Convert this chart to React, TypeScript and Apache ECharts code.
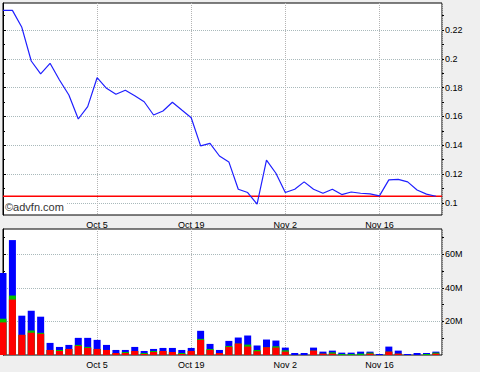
import React, { useEffect, useRef } from "react";
import * as echarts from "echarts";

const dates = [
  "Sep 21", "Sep 22", "Sep 23", "Sep 24", "Sep 25", "Sep 28", "Sep 29", "Sep 30",
  "Oct 1", "Oct 2", "Oct 5", "Oct 6", "Oct 7", "Oct 8", "Oct 9", "Oct 12", "Oct 13",
  "Oct 14", "Oct 15", "Oct 16", "Oct 19", "Oct 20", "Oct 21", "Oct 22", "Oct 23",
  "Oct 26", "Oct 27", "Oct 28", "Oct 29", "Oct 30", "Nov 2", "Nov 3", "Nov 4", "Nov 5",
  "Nov 6", "Nov 9", "Nov 10", "Nov 11", "Nov 12", "Nov 13", "Nov 16", "Nov 17",
  "Nov 18", "Nov 19", "Nov 20", "Nov 23", "Nov 24",
];
const labeledDates = ["Oct 5", "Oct 19", "Nov 2", "Nov 16"];

const price = [
  0.2337, 0.2337, 0.2219, 0.1985, 0.1895, 0.1969, 0.1853, 0.1749, 0.1582, 0.1668,
  0.1869, 0.1795, 0.1754, 0.1782, 0.1744, 0.1702, 0.161, 0.1638, 0.1698, 0.1644,
  0.1591, 0.1395, 0.1413, 0.1325, 0.1284, 0.1094, 0.1071, 0.099, 0.1296, 0.1205,
  0.1071, 0.1094, 0.1145, 0.1094, 0.1066, 0.1094, 0.1057, 0.1075, 0.1066, 0.1062,
  0.1048, 0.1159, 0.1163, 0.1145, 0.1089, 0.106, 0.1045,
];
const lastPrice = 0.1045;

// volume in millions, stacked: red (bottom), green, blue (top)
const volRed = [
  19.4, 33, 12, 13.2, 12.6, 3, 2.4, 3.6, 5.4, 4.2, 3.6, 3, 1.2, 1.2, 2.4, 0.6, 1.8,
  2.4, 1.8, 0.6, 2.4, 9, 3, 1.2, 4.8, 6.8, 5, 2.2, 4.6, 4.4, 2, 0, 0, 2.6, 0.8, 0.8,
  0, 0, 0, 0.8, 0, 2, 0.8, 0, 0, 0, 0.8,
];
const volGreen = [
  2.2, 2.4, 0, 1.4, 0.6, 0, 0.6, 0, 0.6, 0.6, 0, 0, 0, 0.6, 0, 0.6, 0.6, 0, 0, 0.6,
  0, 0.6, 0.6, 0, 0.6, 0, 1.2, 0.8, 0, 0.8, 0.8, 0, 0, 0, 0, 0.8, 0.6, 0.6, 0.8, 0.6,
  0, 0, 0, 0, 0, 0.6, 0.6,
];
const volBlue = [
  27.2, 33, 11.4, 11.8, 9.6, 4.2, 1.8, 2.4, 4.2, 5.4, 5.4, 3, 1.8, 1.2, 2.4, 1.2, 1.2,
  1.8, 2.4, 1.8, 1.8, 4.8, 3, 1.8, 3, 3.6, 5.4, 2.6, 4.6, 3.4, 1.6, 1.2, 1.2, 1.8, 1.2,
  1.0, 0.8, 0.8, 1.2, 0.6, 0.6, 3, 1.8, 0.6, 1.2, 0.6, 0.6,
];

const priceTicks = [0.1, 0.12, 0.14, 0.16, 0.18, 0.2, 0.22];
const priceMinorTicks = [0.1, 0.11, 0.12, 0.13, 0.14, 0.15, 0.16, 0.17, 0.18, 0.19, 0.2, 0.21, 0.22, 0.23];
const volTicks = [20, 40, 60];
const volMinorTicks = [10, 20, 30, 40, 50, 60, 70];

const FONT = "Liberation Sans, Arial, sans-serif";

export default function App() {
  const ref = useRef<HTMLDivElement>(null);
  useEffect(() => {
    document.body.style.margin = "0";
    const chart = echarts.init(ref.current!, null, { renderer: "svg" });
    const idx = (arr: number[]) => arr.map((v, i) => [i, v]);
    // cumulative tops for the stacked look (drawn overlapping, tallest first)
    const cumGreen = volRed.map((r, i) => r + volGreen[i]);
    const cumBlue = cumGreen.map((g, i) => g + volBlue[i]);
    const labelIdx = labeledDates.map((d) => dates.indexOf(d));
    const xFmt = (v: number) => (labelIdx.includes(v) ? dates[v] : "");
    const hLine = { show: true, lineStyle: { color: "#a9b9bb", type: [1, 1] as any, width: 1 } };
    const vLine = { show: true, lineStyle: { color: "#b4b4b4", type: [1, 1] as any, width: 1 } };
    const xMax = 46.65;
    const xBase = (grid: number) => ({
      type: "value",
      gridIndex: grid,
      min: 0,
      max: xMax,
      interval: 10,
      axisLine: { show: false },
      axisTick: { show: false },
      axisLabel: { formatter: xFmt, fontSize: 9, fontFamily: FONT, color: "#000", margin: 5, showMinLabel: true, showMaxLabel: true },
      splitLine: vLine,
    });
    const pMin = 0.0915, pMax = 0.2388;
    const vMin = 0, vMax = 75;
    const barCommon = { type: "bar", xAxisIndex: 1, yAxisIndex: 3, barWidth: 7, barGap: "-100%" };
    chart.setOption({
      animation: false,
      backgroundColor: "#efefef",
      grid: [
        { left: 3, top: 3, width: 439, height: 212, show: true, backgroundColor: "#fff", borderColor: "#000", borderWidth: 1 },
        { left: 3, top: 229, width: 439, height: 126, show: true, backgroundColor: "#fff", borderColor: "#000", borderWidth: 1 },
      ],
      xAxis: [xBase(0), xBase(1)],
      yAxis: [
        {
          type: "value", gridIndex: 0, position: "right", min: pMin, max: pMax,
          axisLine: { show: true, lineStyle: { color: "#000" } },
          axisTick: { show: true, length: 3, customValues: priceTicks, lineStyle: { color: "#000" } },
          axisLabel: { customValues: priceTicks, fontSize: 9, fontFamily: FONT, color: "#000", margin: 3 },
          splitLine: hLine,
        },
        {
          type: "value", gridIndex: 0, position: "right", min: pMin, max: pMax,
          axisLine: { show: false },
          axisTick: { show: true, length: 2, customValues: priceMinorTicks, lineStyle: { color: "#000" } },
          axisLabel: { show: false },
          splitLine: { show: false },
        },
        {
          type: "value", gridIndex: 0, position: "left", min: pMin, max: pMax,
          axisLine: { show: false },
          axisTick: { show: true, inside: true, length: 2, customValues: priceMinorTicks, lineStyle: { color: "#000" } },
          axisLabel: { show: false },
          splitLine: { show: false },
        },
        {
          type: "value", gridIndex: 1, position: "right", min: vMin, max: vMax,
          axisLine: { show: true, lineStyle: { color: "#000" } },
          axisTick: { show: true, length: 3, customValues: volTicks, lineStyle: { color: "#000" } },
          axisLabel: { customValues: volTicks, fontSize: 9, fontFamily: FONT, color: "#000", margin: 3, formatter: (v: number) => v + "M" },
          splitLine: hLine,
        },
        {
          type: "value", gridIndex: 1, position: "right", min: vMin, max: vMax,
          axisLine: { show: false },
          axisTick: { show: true, length: 2, customValues: volMinorTicks, lineStyle: { color: "#000" } },
          axisLabel: { show: false },
          splitLine: { show: false },
        },
        {
          type: "value", gridIndex: 1, position: "left", min: vMin, max: vMax,
          axisLine: { show: false },
          axisTick: { show: true, inside: true, length: 2, customValues: volMinorTicks, lineStyle: { color: "#000" } },
          axisLabel: { show: false },
          splitLine: { show: false },
        },
      ],
      series: [
        {
          type: "line", xAxisIndex: 0, yAxisIndex: 0, data: [[0, lastPrice], [xMax, lastPrice]], symbol: "none",
          lineStyle: { color: "#ff0000", width: 1.5 }, z: 4, silent: true,
        },
        {
          type: "line", xAxisIndex: 0, yAxisIndex: 0, data: idx(price), symbol: "none",
          lineStyle: { color: "#1f1fff", width: 1.2 }, z: 5,
        },
        { ...barCommon, data: idx(cumBlue), itemStyle: { color: "#0000ff" } },
        { ...barCommon, data: idx(cumGreen), itemStyle: { color: "#00c000" } },
        { ...barCommon, data: idx(volRed), itemStyle: { color: "#ff0000" } },
      ],
      graphic: [
        { type: "rect", left: 4, top: 200, shape: { width: 62, height: 14 }, style: { fill: "#fff" }, z: 100 },
        { type: "text", left: 5, top: 201, style: { text: "©advfn.com", font: "11px Liberation Sans, Arial, sans-serif", fill: "#333" }, z: 101 },
      ],
    });
    return () => chart.dispose();
  }, []);
  return <div ref={ref} style={{ width: 480, height: 372 }} />;
}
